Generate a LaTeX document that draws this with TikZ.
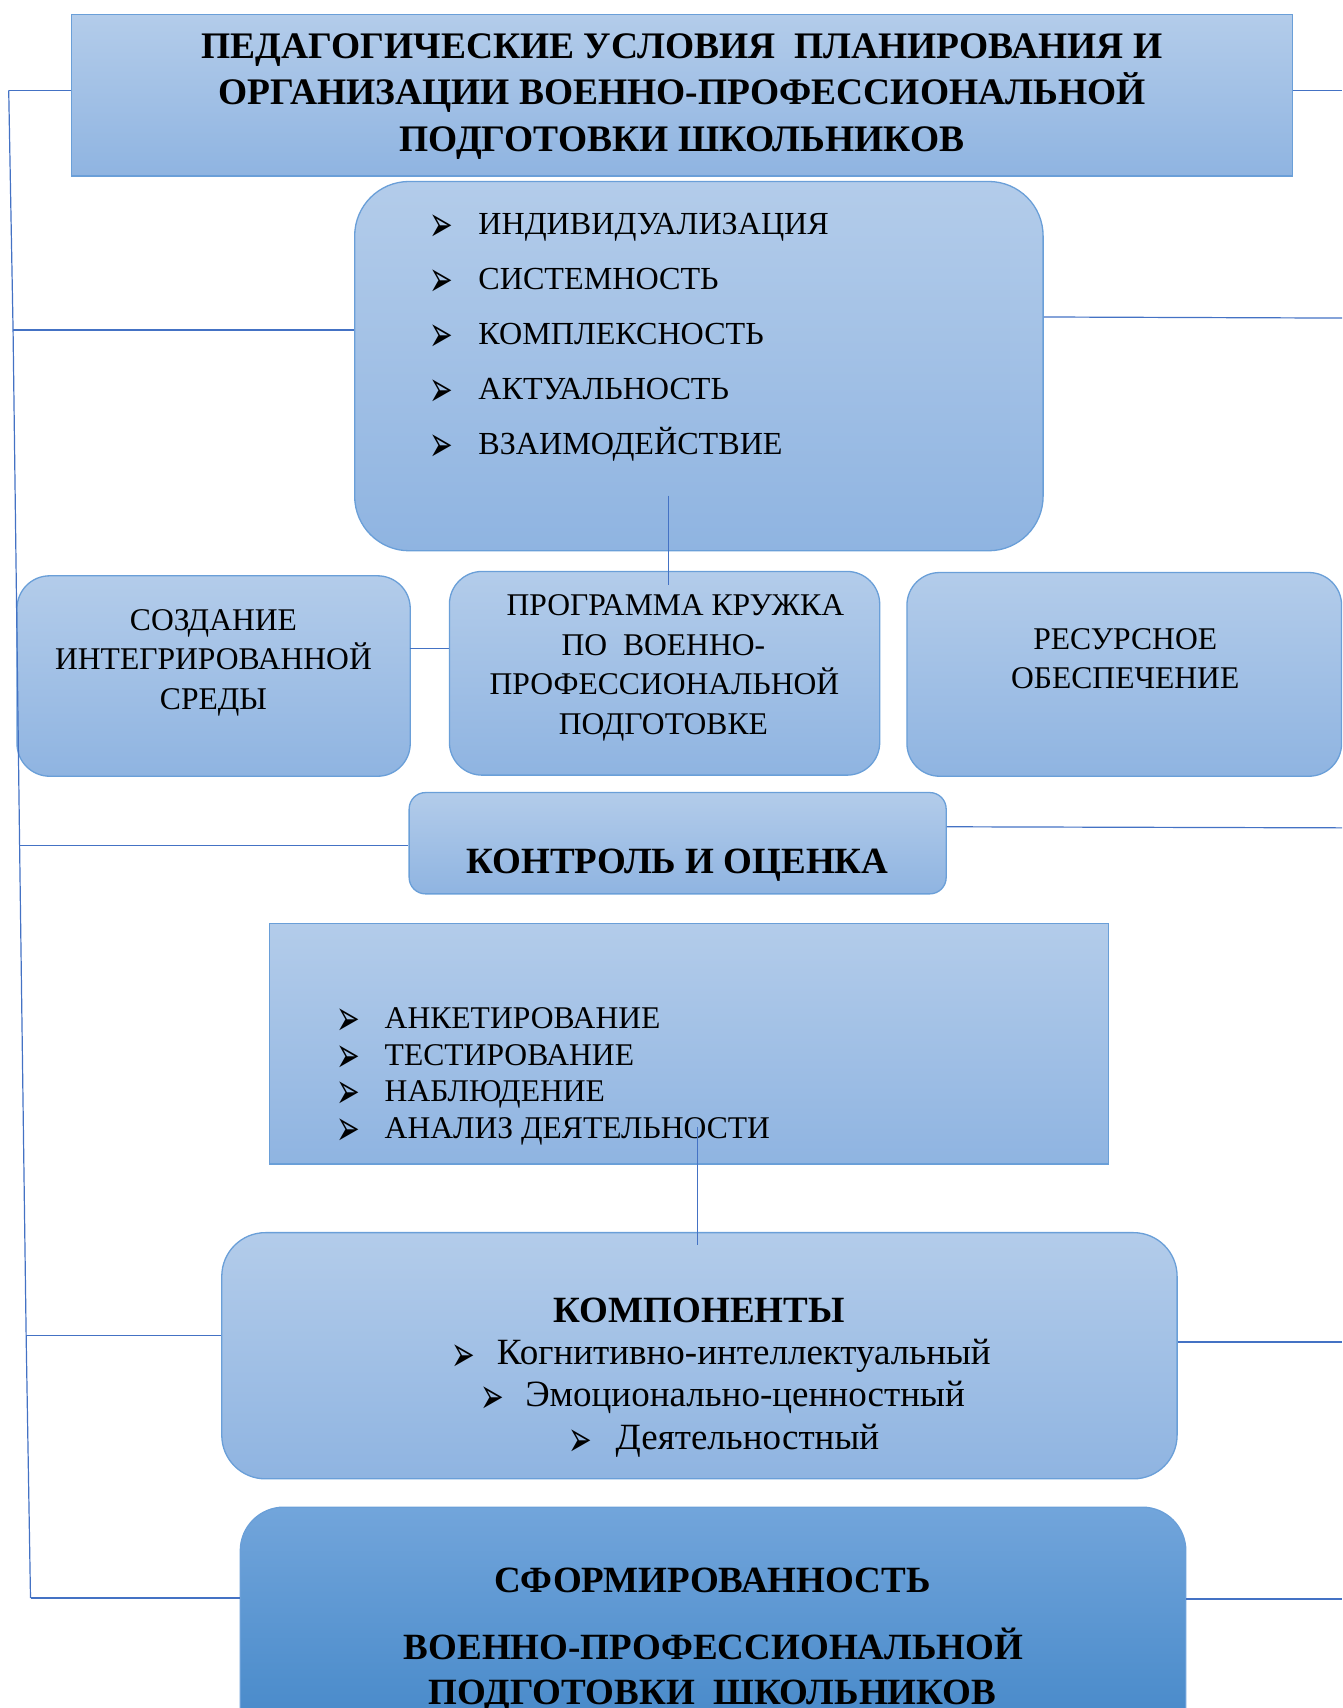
\documentclass[tikz,border=0pt]{standalone}
\usepackage{fontspec}
\setmainfont{Liberation Serif}
\newfontfamily\symb{DejaVu Sans}
\usetikzlibrary{calc}
\definecolor{bxtop}{HTML}{B3CCEA}
\definecolor{bxbot}{HTML}{8FB4E1}
\definecolor{bxborder}{HTML}{6A9FD8}
\definecolor{fntop}{HTML}{72A5DB}
\definecolor{fnbot}{HTML}{3F84C6}
\definecolor{lnc}{HTML}{4472C4}
\newcommand{\bul}{\raisebox{0pt}[18pt][0pt]{\scalebox{1.3}[2.3]{\symb\fontsize{20}{20}\selectfont ➢}}}
\tikzset{
  box/.style={draw=bxborder, line width=1.2pt, top color=bxtop, bottom color=bxbot, inner sep=0pt, anchor=north west},
  finalbox/.style={draw=bxborder, line width=1.2pt, top color=fntop, bottom color=fnbot, inner sep=0pt, anchor=north west},
  conn/.style={draw=lnc, line width=1.1pt},
  txt/.style={inner sep=0pt, anchor=base, text=black},
  ltxt/.style={inner sep=0pt, anchor=base west, text=black},
  bulnode/.style={inner sep=0pt, anchor=base, text=black, yshift=-6.5pt},
  reg/.style={font=\fontsize{29}{29}\selectfont},
  bld/.style={font=\bfseries\fontsize{34}{34}\selectfont},
}
\begin{document}
\begin{tikzpicture}[x=1pt,y=-1pt]
\useasboundingbox (0,0) rectangle (1232,1568);

% boxes
\node[box, minimum width=1121pt, minimum height=148pt] (title) at (65,13) {};
\node[box, rounded corners=50pt, minimum width=632pt, minimum height=339pt] (princ) at (325,166) {};
\node[box, rounded corners=30pt, minimum width=361pt, minimum height=184pt] (create) at (15,528) {};
\node[box, rounded corners=30pt, minimum width=395pt, minimum height=187pt] (prog) at (412,524) {};
\node[box, rounded corners=30pt, minimum width=399pt, minimum height=187pt] (res) at (832,525) {};
\node[box, rounded corners=15pt, minimum width=493pt, minimum height=93pt] (ctrl) at (375,727) {};
\node[box, minimum width=770pt, minimum height=221pt] (meth) at (247,847) {};
\node[box, rounded corners=40pt, minimum width=877pt, minimum height=226pt] (comp) at (203,1131) {};
\node[finalbox, rounded corners=40pt, minimum width=868pt, minimum height=240pt] (final) at (220,1383) {};

% title text
\begin{scope}[font=\bfseries\fontsize{34.4}{34.4}\selectfont]
\node[txt] (t1) at (626,54) {ПЕДАГОГИЧЕСКИЕ УСЛОВИЯ~ ПЛАНИРОВАНИЯ И};
\node[txt] (t2) at (626,96) {ОРГАНИЗАЦИИ ВОЕННО-ПРОФЕССИОНАЛЬНОЙ};
\node[txt] (t3) at (626,139) {ПОДГОТОВКИ ШКОЛЬНИКОВ};
\end{scope}

% principles list
\begin{scope}[font=\fontsize{29.5}{29.5}\selectfont]
\node[bulnode] (pb1) at (405,215) {\bul};
\node[bulnode] (pb2) at (405,266) {\bul};
\node[bulnode] (pb3) at (405,316) {\bul};
\node[bulnode] (pb4) at (405,367) {\bul};
\node[bulnode] (pb5) at (405,417) {\bul};
\node[ltxt] (p1) at (439,215) {ИНДИВИДУАЛИЗАЦИЯ};
\node[ltxt] (p2) at (439,266) {СИСТЕМНОСТЬ};
\node[ltxt] (p3) at (439,316) {КОМПЛЕКСНОСТЬ};
\node[ltxt] (p4) at (439,367) {АКТУАЛЬНОСТЬ};
\node[ltxt] (p5) at (439,417) {ВЗАИМОДЕЙСТВИЕ};
\end{scope}

% middle row
\begin{scope}[reg]
\node[txt] (c1) at (196,579) {СОЗДАНИЕ};
\node[txt] (c2) at (196,615) {ИНТЕГРИРОВАННОЙ};
\node[txt] (c3) at (196,651) {СРЕДЫ};
\node[txt] (g1) at (620,565) {ПРОГРАММА КРУЖКА};
\node[txt] (g2) at (609,602) {ПО~ ВОЕННО-};
\node[txt] (g3) at (610,638) {ПРОФЕССИОНАЛЬНОЙ};
\node[txt] (g4) at (609,674) {ПОДГОТОВКЕ};
\node[txt] (r1) at (1033,596) {РЕСУРСНОЕ};
\node[txt] (r2) at (1033,632) {ОБЕСПЕЧЕНИЕ};
\end{scope}

% control
\node[txt, bld] (ctt) at (622,802) {КОНТРОЛЬ И ОЦЕНКА};

% methods list
\begin{scope}[reg]
\node[bulnode] (mb1) at (320,944) {\bul};
\node[bulnode] (mb2) at (320,978) {\bul};
\node[bulnode] (mb3) at (320,1011) {\bul};
\node[bulnode] (mb4) at (320,1045) {\bul};
\node[ltxt] (m1) at (353,944) {АНКЕТИРОВАНИЕ};
\node[ltxt] (m2) at (353,978) {ТЕСТИРОВАНИЕ};
\node[ltxt] (m3) at (353,1011) {НАБЛЮДЕНИЕ};
\node[ltxt] (m4) at (353,1045) {АНАЛИЗ ДЕЯТЕЛЬНОСТИ};
\end{scope}

% components
\node[txt, bld] (kt) at (642,1214) {КОМПОНЕНТЫ};
\begin{scope}[font=\fontsize{34}{34}\selectfont]
\node[bulnode] (kb1) at (425,1253) {\bul};
\node[bulnode] (kb2) at (452,1291) {\bul};
\node[bulnode] (kb3) at (533,1331) {\bul};
\node[ltxt] (k1) at (456,1253) {Когнитивно-интеллектуальный};
\node[ltxt] (k2) at (482,1291) {Эмоционально-ценностный};
\node[ltxt] (k3) at (565,1331) {Деятельностный};
\end{scope}

% final
\begin{scope}[bld]
\node[txt] (f1) at (654,1462) {СФОРМИРОВАННОСТЬ};
\node[txt] (f2) at (655,1523) {ВОЕННО-ПРОФЕССИОНАЛЬНОЙ};
\node[txt] (f3) at (654,1565) {ПОДГОТОВКИ~ ШКОЛЬНИКОВ};
\end{scope}

% left spine
\coordinate (L1) at (8,83);
\coordinate (L2) at (12,303);
\coordinate (L3) at (18,776);
\coordinate (L4) at (24,1226);
\coordinate (L5) at (28,1467);
\draw[conn] (L1) -- (L2) -- (L3) -- (L4) -- (L5);
\draw[conn] (L1) -- (L1 -| title.west);
\draw[conn] (L2) -- (L2 -| princ.west);
\draw[conn] (L3) -- (L3 -| ctrl.west);
\draw[conn] (L4) -- (L4 -| comp.west);
\draw[conn] (L5) -- (L5 -| final.west);

% right free ends
\coordinate (R1) at (1232,83);
\coordinate (R2) at (1232,292);
\coordinate (R3) at (1232,760);
\coordinate (R4) at (1232,1232);
\coordinate (R5) at (1232,1468);
\draw[conn] (R1 -| title.east) -- (R1);
\draw[conn] (princ.east |- 0,291) -- (R2);
\draw[conn] (ctrl.east |- 0,759) -- (R3);
\draw[conn] (comp.east |- R4) -- (R4);
\draw[conn] (final.east |- R5) -- (R5);

% inner connectors
\coordinate (pc) at (614,455);
\draw[conn] (pc) -- (pc |- 0,537);
\coordinate (cp) at (376,595);
\draw[conn] (cp) -- (cp -| prog.west);
\coordinate (mc) at (640,1035);
\draw[conn] (mc) -- (mc |- comp.north) -- ++(0,12);
\end{tikzpicture}
\end{document}
